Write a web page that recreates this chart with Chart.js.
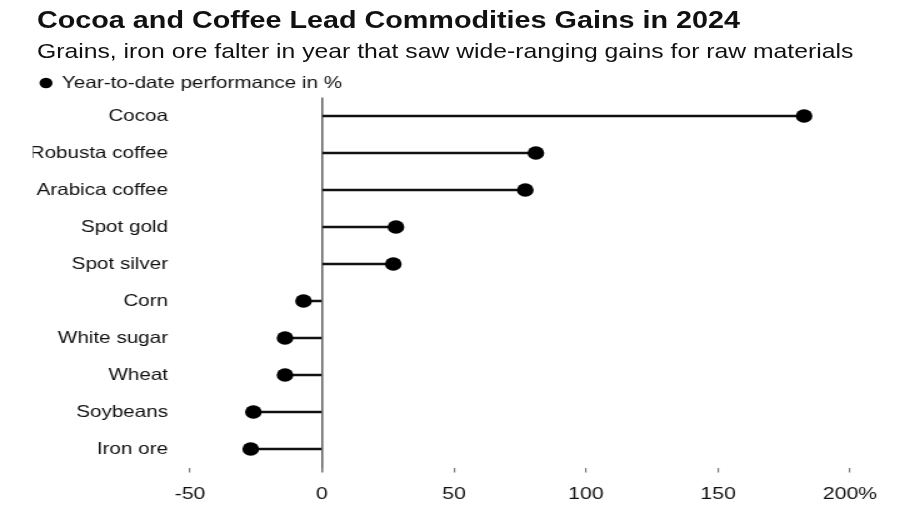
<!DOCTYPE html>
<html>
<head>
<meta charset="utf-8">
<script src="https://cdn.jsdelivr.net/npm/chart.js@4"></script>
<style>
  body { margin: 0; background: #fff; font-family: "Liberation Sans", Arial, sans-serif; color: #111; }
  #page { width: 900px; height: 510px; overflow: hidden; }
  /* the reference is a horizontally stretched graphic: lay out at 720px, stretch to 900px */
  #wrap { position: relative; width: 720px; height: 510px; transform: scaleX(1.25); transform-origin: 0 0; }
  #title { position: absolute; left: 29.6px; top: 6.7px; font-size: 23px; font-weight: bold; line-height: 26px; white-space: nowrap; }
  #sub { position: absolute; left: 29.6px; top: 39px; font-size: 19.8px; line-height: 24px; white-space: nowrap; }
  #chart { position: absolute; left: 0; top: 0; }
</style>
</head>
<body>
<div id="page">
<div id="wrap">
  <canvas id="chart" width="720" height="510"></canvas>
  <div id="title">Cocoa and Coffee Lead Commodities Gains in 2024</div>
  <div id="sub">Grains, iron ore falter in year that saw wide-ranging gains for raw materials</div>
</div>
</div>
<script>
// Year-to-date performance, %
const commodities = ['Cocoa', 'Robusta coffee', 'Arabica coffee', 'Spot gold', 'Spot silver',
                     'Corn', 'White sugar', 'Wheat', 'Soybeans', 'Iron ore'];
const ytdChange = [182.6, 81, 77, 28, 27, -7, -14, -14, -26, -27];
const xTicks = [-50, 0, 50, 100, 150, 200];
const seriesLabel = 'Year-to-date performance in %';

const fontFamily = '"Liberation Sans", Arial, sans-serif';

new Chart(document.getElementById('chart'), {
    data: {
        labels: commodities,
        datasets: [
            {
                type: 'line',
                label: seriesLabel,
                data: ytdChange,
                showLine: false,
                pointRadius: 6.7,
                pointHoverRadius: 6.7,
                pointBackgroundColor: '#000',
                pointBorderColor: '#000',
                pointBorderWidth: 0,
                borderColor: '#000',
                backgroundColor: '#000',
                order: 0
            },
            {
                type: 'bar',
                label: 'stem',
                data: ytdChange,
                backgroundColor: '#111',
                barThickness: 2,
                order: 1
            }
        ]
    },
    options: {
        indexAxis: 'y',
        responsive: false,
        animation: false,
        layout: { padding: { top: 68.75, left: 26.25, right: 40, bottom: 4.5 } },
        plugins: {
            legend: {
                align: 'start',
                maxHeight: 28.75,
                labels: {
                    filter: item => item.text === seriesLabel,
                    usePointStyle: true,
                    pointStyle: 'circle',
                    boxHeight: 7.4,
                    boxWidth: 9.1,
                    padding: 6,
                    color: '#111',
                    font: { family: fontFamily, size: 16.5 }
                }
            },
            tooltip: { enabled: false }
        },
        scales: {
            x: {
                min: -50,
                max: 200,
                afterBuildTicks: axis => { axis.ticks = xTicks.map(v => ({ value: v })); },
                afterFit: axis => { axis.height = 38; },
                border: { display: false },
                grid: {
                    color: ctx => ctx.tick && ctx.tick.value === 0 ? '#666' : 'rgba(0,0,0,0)',
                    lineWidth: ctx => ctx.tick && ctx.tick.value === 0 ? 1.6 : 1.2,
                    tickColor: '#777',
                    tickLength: 5
                },
                ticks: {
                    color: '#111',
                    font: { family: fontFamily, size: 17 },
                    padding: 12,
                    callback: v => v === 200 ? v + '%' : v
                }
            },
            y: {
                afterFit: axis => { axis.width = 125.75; },
                border: { display: false },
                grid: { display: false, drawTicks: false },
                ticks: { color: '#111', font: { family: fontFamily, size: 16.5 }, padding: 17.6 }
            }
        }
    }
});
</script>
</body>
</html>
